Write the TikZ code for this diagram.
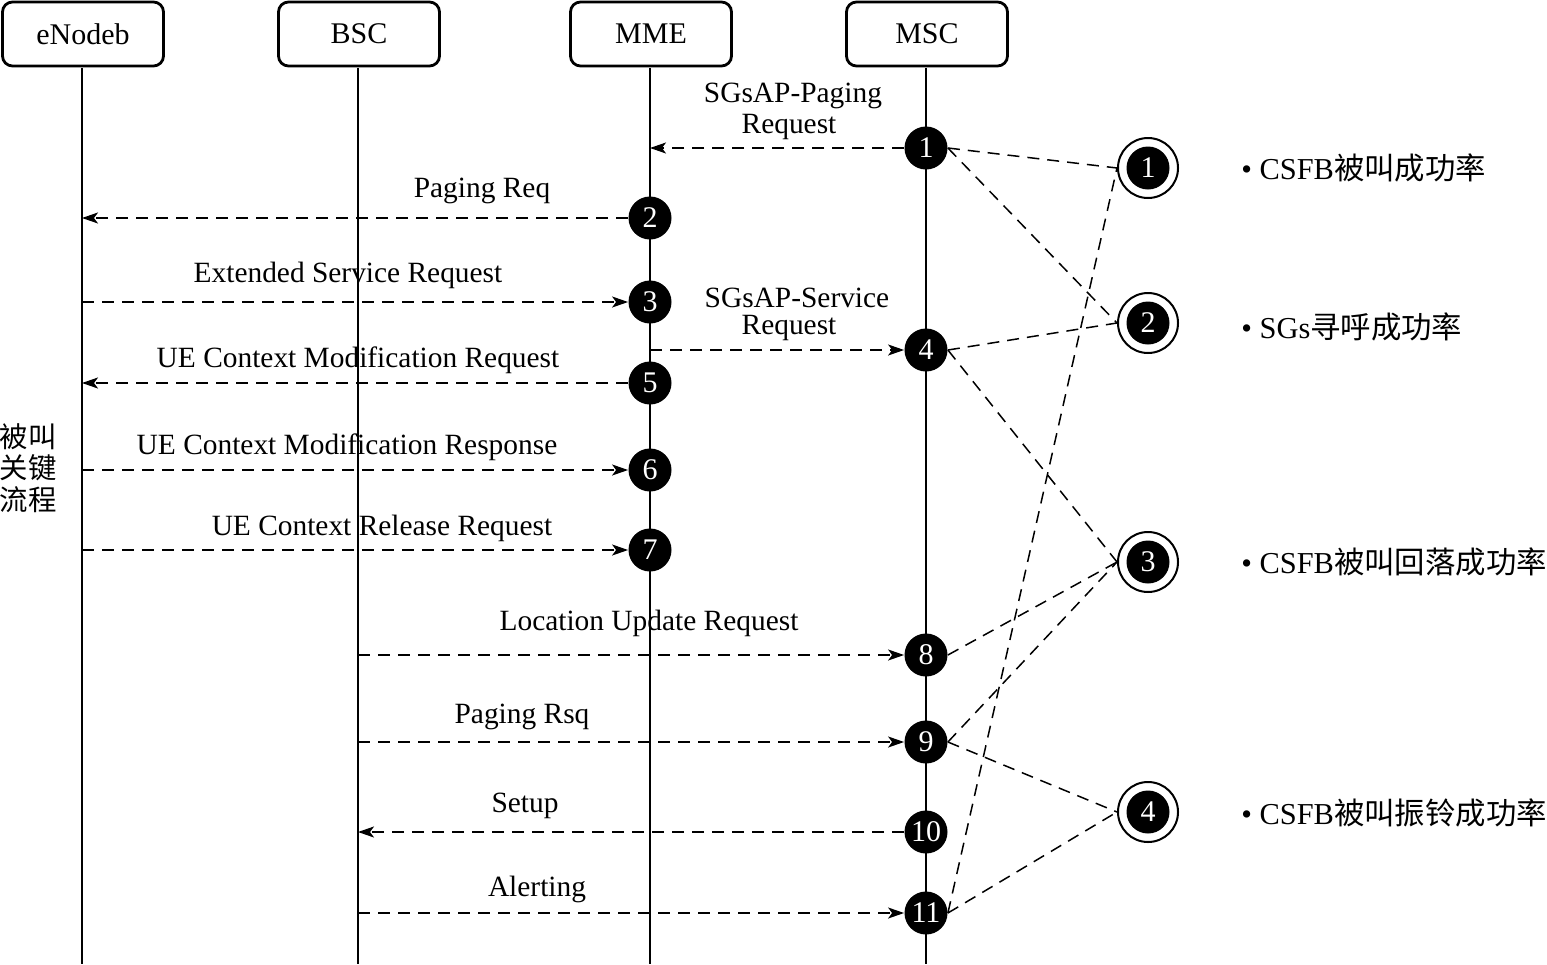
\documentclass[tikz,border=0pt]{standalone}
\usepackage{fontspec}
\setmainfont{Liberation Serif}
\newfontfamily\cjk{Noto Sans CJK SC}
\usetikzlibrary{arrows.meta}
\begin{document}
\begin{tikzpicture}[x=0.5pt,y=-0.5pt,
  font=\fontsize{14.7}{17}\selectfont,
  entity/.style={draw, line width=1.4pt, rounded corners=5pt, minimum width=80.5pt, minimum height=32pt, inner sep=0pt, font=\fontsize{15}{17}\selectfont},
  life/.style={line width=0.8pt},
  num/.style={circle, fill=black, text=white, minimum size=21.5pt, inner sep=0pt, font=\fontsize{15}{15}\selectfont},
  ring/.style={circle, draw, line width=1pt, minimum size=30pt, inner sep=0pt},
  msg/.style={dash pattern=on 6pt off 4pt, line width=0.8pt, -{Stealth[length=8pt,width=5.5pt,inset=2pt]}},
  link/.style={dash pattern=on 6pt off 4pt, line width=0.75pt},
  lbl/.style={anchor=base, inner sep=0pt},
  item/.style={anchor=west, inner sep=0pt, font=\fontsize{15.2}{17}\selectfont}]
\useasboundingbox (0,0) rectangle (1547,964);
% entities
\node[entity] (enb) at (83,34) {eNodeb};
\node[entity] (bsc) at (359,34) {BSC};
\node[entity] (mme) at (651,34) {MME};
\node[entity] (msc) at (927,34) {MSC};
\coordinate (enbB) at (82,964);
\coordinate (bscB) at (358,964);
\coordinate (mmeB) at (650,964);
\coordinate (mscB) at (926,964);
\coordinate (enbT) at (82,68);
\coordinate (bscT) at (358,68);
\coordinate (mmeT) at (650,68);
\coordinate (mscT) at (926,68);
\draw[life] (enbT) -- (enbB);
\draw[life] (bscT) -- (bscB);
\draw[life] (mmeT) -- (mmeB);
\draw[life] (mscT) -- (mscB);
% numbered steps
\node[num] (m1) at (926,148) {1};
\node[num] (m2) at (650,218) {2};
\node[num] (m3) at (650,302) {3};
\node[num] (m4) at (926,350) {4};
\node[num] (m5) at (650,383) {5};
\node[num] (m6) at (650,470) {6};
\node[num] (m7) at (650,550) {7};
\node[num] (m8) at (926,655) {8};
\node[num] (m9) at (926,742) {9};
\node[num] (m10) at (926,832) {10};
\node[num] (m11) at (926,913) {11};
% messages
\draw[msg] (m1.west) -- (m1.west -| mmeT);
\draw[msg] (m2.west) -- (m2.west -| enbT);
\draw[msg] (m3.west -| enbT) -- (m3.west);
\draw[msg] (m4.west -| mmeT) -- (m4.west);
\draw[msg] (m5.west) -- (m5.west -| enbT);
\draw[msg] (m6.west -| enbT) -- (m6.west);
\draw[msg] (m7.west -| enbT) -- (m7.west);
\draw[msg] (m8.west -| bscT) -- (m8.west);
\draw[msg] (m9.west -| bscT) -- (m9.west);
\draw[msg] (m10.west) -- (m10.west -| bscT);
\draw[msg] (m11.west -| bscT) -- (m11.west);
% labels
\node[lbl] (l1a) at (793,102) {SGsAP-Paging};
\node[lbl] (l1b) at (789,133) {Request};
\node[lbl] (l2) at (482,197) {Paging Req};
\node[lbl] (l3) at (348,282) {Extended Service Request};
\node[lbl] (l4a) at (797,307) {SGsAP-Service};
\node[lbl] (l4b) at (789,334) {Request};
\node[lbl] (l5) at (358,367) {UE Context Modification Request};
\node[lbl] (l6) at (347,454) {UE Context Modification Response};
\node[lbl] (l7) at (382,535) {UE Context Release Request};
\node[lbl] (l8) at (649,630) {Location Update Request};
\node[lbl] (l9) at (522,723) {Paging Rsq};
\node[lbl] (l10) at (525,812) {Setup};
\node[lbl] (l11) at (537,896) {Alerting};
% side text
\node[align=center, inner sep=0pt, font=\cjk\fontsize{14.2}{15.75}\selectfont] (side) at (28,468) {被叫\\关键\\流程};
% KPI rings
\node[ring] (r1) at (1148,168) {};
\node[num] (n1) at (r1) {1};
\node[ring] (r2) at (1148,323) {};
\node[num] (n2) at (r2) {2};
\node[ring] (r3) at (1148,562) {};
\node[num] (n3) at (r3) {3};
\node[ring] (r4) at (1148,812) {};
\node[num] (n4) at (r4) {4};
% links
\draw[link] (m1.east) -- (r1.west);
\draw[link] (m1.east) -- (r2.west);
\draw[link] (m4.east) -- (r2.west);
\draw[link] (m4.east) -- (r3.west);
\draw[link] (m8.east) -- (r3.west);
\draw[link] (m9.east) -- (r3.west);
\draw[link] (m9.east) -- (r4.west);
\draw[link] (m11.east) -- (r1.west);
\draw[link] (m11.east) -- (r4.west);
% KPI names
\node[item] (k1) at (1241,168) {\textbullet\ CSFB{\cjk 被叫成功率}};
\node[item] (k2) at (1241,327) {\textbullet\ SGs{\cjk 寻呼成功率}};
\node[item] (k3) at (1241,562) {\textbullet\ CSFB{\cjk 被叫回落成功率}};
\node[item] (k4) at (1241,813) {\textbullet\ CSFB{\cjk 被叫振铃成功率}};
\end{tikzpicture}
\end{document}
